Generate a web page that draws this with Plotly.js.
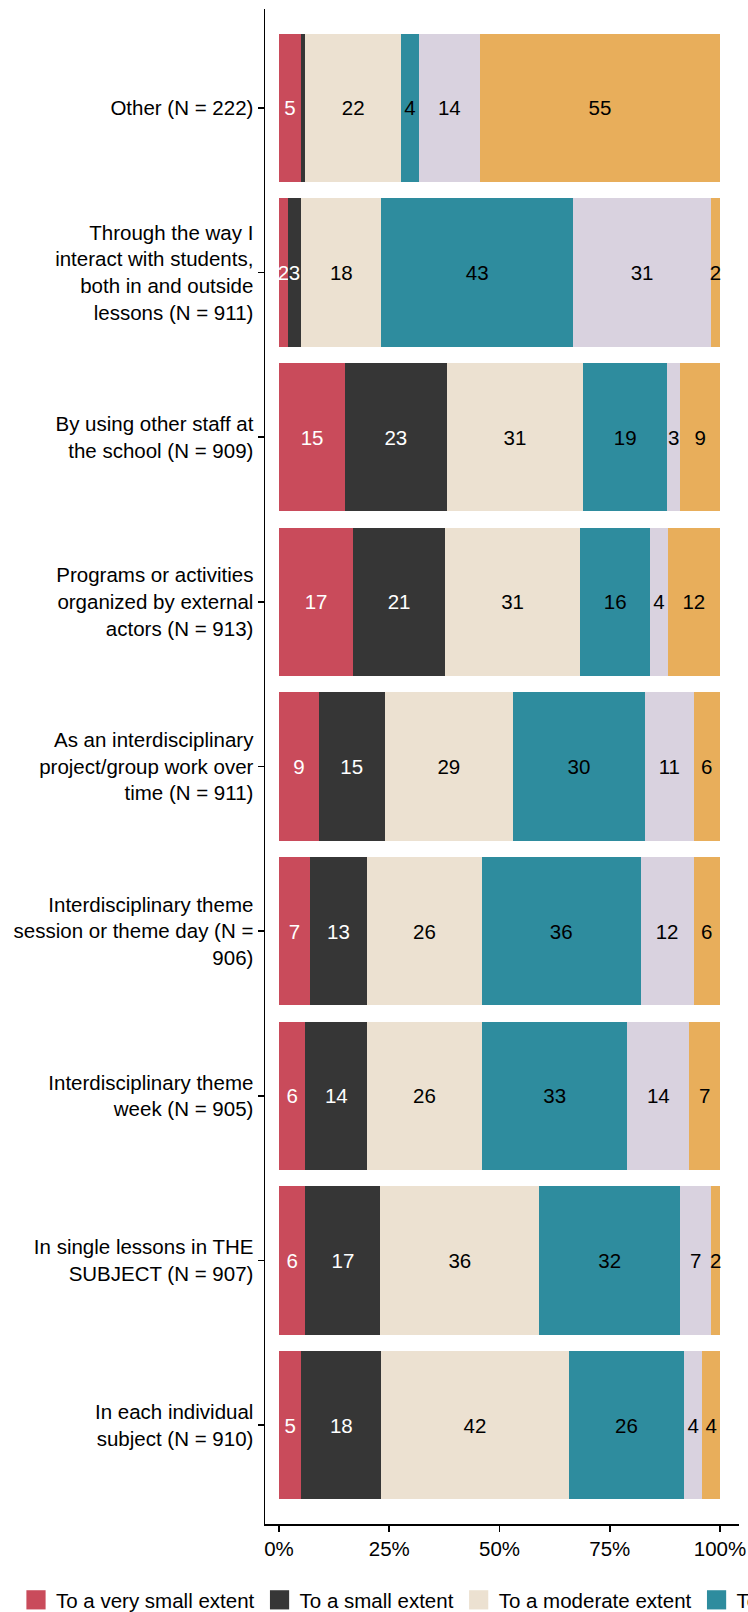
<!DOCTYPE html>
<html>
<head>
<meta charset="utf-8">
<script src="https://cdn.plot.ly/plotly-3.0.1.min.js"></script>
<style>
html, body { margin: 0; padding: 0; overflow: hidden; background: #ffffff; }
#wrap { width: 748px; height: 1612px; overflow: hidden; position: relative; }
#chart { width: 3400px; height: 1612px; }
</style>
</head>
<body>
<div id="wrap"><div id="chart"></div></div>
<script>
const FONT = '"Liberation Sans", Arial, Helvetica, sans-serif';

// Categories, top to bottom
const categories = [
  "Other (N = 222)",
  "Through the way I<br>interact with students,<br>both in and outside<br>lessons (N = 911)",
  "By using other staff at<br>the school (N = 909)",
  "Programs or activities<br>organized by external<br>actors (N = 913)",
  "As an interdisciplinary<br>project/group work over<br>time (N = 911)",
  "Interdisciplinary theme<br>session or theme day (N =<br>906)",
  "Interdisciplinary theme<br>week (N = 905)",
  "In single lessons in THE<br>SUBJECT (N = 907)",
  "In each individual<br>subject (N = 910)"
];

const seriesNames = [
  "To a very small extent",
  "To a small extent",
  "To a moderate extent",
  "To a large extent",
  "To a very large extent",
  "Don't know"
];

// Percentages per category (same order as categories)
const verySmall = [5, 2, 15, 17, 9, 7, 6, 6, 5];
const small     = [1, 3, 23, 21, 15, 13, 14, 17, 18];
const moderate  = [22, 18, 31, 31, 29, 26, 26, 36, 42];
const large     = [4, 43, 19, 16, 30, 36, 33, 32, 26];
const veryLarge = [14, 31, 3, 4, 11, 12, 14, 7, 4];
const dontKnow  = [55, 2, 9, 12, 6, 6, 7, 2, 4];

const xTickVals = [0, 25, 50, 75, 100];
const xTickLabels = ["0%", "25%", "50%", "75%", "100%"];

const colors = ["#C94B5B", "#363636", "#ECE1D1", "#2E8C9E", "#D9D2DF", "#E8AE5B"];
const textColors = ["#ffffff", "#ffffff", "#000000", "#000000", "#000000", "#000000"];

const series = [verySmall, small, moderate, large, veryLarge, dontKnow];

const traces = series.map((vals, i) => ({
  type: 'bar',
  orientation: 'h',
  name: seriesNames[i],
  y: categories,
  x: vals,
  text: vals.map(v => (v > 1 ? String(v) : '')),
  texttemplate: '%{text}',
  textposition: 'inside',
  insidetextanchor: 'middle',
  textangle: 0,
  constraintext: 'none',
  cliponaxis: false,
  textfont: { family: FONT, size: 20.5, color: textColors[i] },
  marker: { color: colors[i], line: { width: 0 } },
  hoverinfo: 'skip'
}));

const W = 3400;
const plotLeft = 265, plotRight = 739;

const layout = {
  width: W,
  height: 1612,
  margin: { l: plotLeft, r: W - plotRight, t: 9, b: 88, pad: 0, autoexpand: false },
  barmode: 'stack',
  barnorm: 'percent',
  bargap: 0.1,
  paper_bgcolor: '#ffffff',
  plot_bgcolor: '#ffffff',
  font: { family: FONT, size: 20.5, color: '#000000' },
  showlegend: true,
  xaxis: {
    range: [-3.17, 104.3],
    tickvals: xTickVals,
    ticktext: xTickLabels,
    ticks: 'outside',
    ticklen: 6,
    tickwidth: 1.5,
    tickcolor: '#000000',
    showline: true,
    linecolor: '#000000',
    linewidth: 1.5,
    showgrid: false,
    zeroline: false,
    tickfont: { family: FONT, size: 20.5, color: '#000000' },
    fixedrange: true
  },
  yaxis: {
    type: 'category',
    categoryorder: 'array',
    categoryarray: categories,
    range: [8.6, -0.6],
    ticks: 'outside',
    ticklen: 6,
    tickwidth: 1.5,
    tickcolor: '#000000',
    showline: true,
    linecolor: '#000000',
    linewidth: 1.5,
    showgrid: false,
    zeroline: false,
    tickfont: { family: FONT, size: 20.5, color: '#000000' },
    fixedrange: true
  },
  legend: {
    orientation: 'h',
    xref: 'paper',
    x: (16 - plotLeft) / (plotRight - plotLeft),
    xanchor: 'left',
    yref: 'container',
    y: 12 / 1612,
    yanchor: 'middle',
    traceorder: 'normal',
    font: { family: FONT, size: 20.5, color: '#000000' },
    bgcolor: 'rgba(0,0,0,0)',
    borderwidth: 0
  }
};

Plotly.newPlot('chart', traces, layout, { displayModeBar: false, staticPlot: true }).then(function (gd) {
  // enlarge legend swatches (keeping Plotly's own placement) to match the reference key size
  gd.querySelectorAll('.legend .legendpoints path').forEach(function (p) {
    var t = p.getAttribute('transform') || '';
    p.setAttribute('transform', t + ' scale(1.6)');
  });
});
</script>
</body>
</html>
